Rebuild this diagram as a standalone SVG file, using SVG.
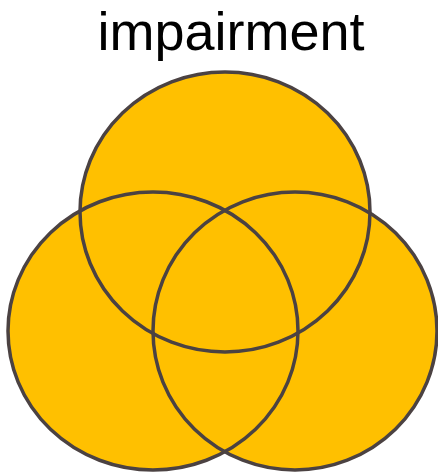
<svg xmlns="http://www.w3.org/2000/svg" width="438" height="472" viewBox="0 0 438 472">
<style>
.fill{fill:#FFC000;stroke:none}
.ring{fill:none;stroke:#4B4242;stroke-width:3.5}
.title{font-family:"Liberation Sans",Arial,sans-serif;font-size:54px;fill:#000}
</style>
<rect width="438" height="472" fill="#fff"/>
<text class="title" x="231" y="50" text-anchor="middle">impairment</text>
<g id="fills">
<ellipse class="fill" cx="225" cy="212" rx="145" ry="140"/>
<ellipse class="fill" cx="153" cy="331" rx="145" ry="139"/>
<ellipse class="fill" cx="295" cy="331" rx="142" ry="139"/>
</g>
<g id="top"><ellipse class="ring" cx="225" cy="212" rx="145" ry="140"/></g>
<g id="left"><ellipse class="ring" cx="153" cy="331" rx="145" ry="139"/></g>
<g id="right"><ellipse class="ring" cx="295" cy="331" rx="142" ry="139"/></g>
</svg>
